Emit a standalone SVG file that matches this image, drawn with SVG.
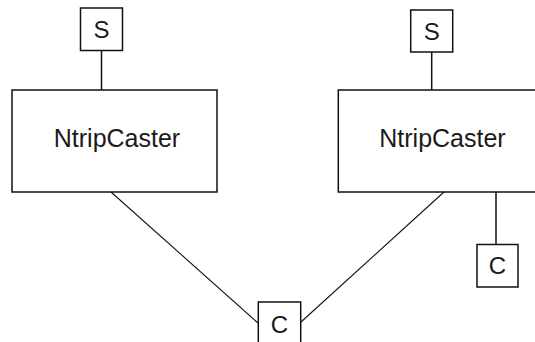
<svg xmlns="http://www.w3.org/2000/svg" width="535" height="342" viewBox="0 0 535 342">
<style>
.box{fill:#fff;stroke:#111;stroke-width:1.5}
.lbl{font-family:"Liberation Sans",Arial,sans-serif;font-size:24px;fill:#1a1a1a;text-anchor:middle}
.big{font-size:25px}
.con{stroke:#111;stroke-width:1.5;fill:none}
.diag{stroke:#111;stroke-width:1.1;fill:none}
</style>
<rect width="535" height="342" fill="#fff"/>
<g id="connectors">
<line class="con" x1="101.5" y1="50.5" x2="101.5" y2="90"/>
<line class="con" x1="431.7" y1="52" x2="431.7" y2="90"/>
<line class="con" x1="496" y1="192" x2="496" y2="244"/>
<line class="diag" x1="111" y1="192" x2="258" y2="323"/>
<line class="diag" x1="444" y1="192" x2="301" y2="322"/>
</g>
<g id="s1"><rect class="box" x="80.5" y="8" width="42" height="42.5"/><text class="lbl" x="101.5" y="37.5">S</text></g>
<g id="s2"><rect class="box" x="410.7" y="10" width="42" height="42"/><text class="lbl" x="431.7" y="39.5">S</text></g>
<g id="caster1"><rect class="box" x="12" y="90" width="205" height="102"/><text class="lbl big" x="117" y="147">NtripCaster</text></g>
<g id="caster2"><rect class="box" x="338.3" y="90" width="205" height="102"/><text class="lbl big" x="442.5" y="147">NtripCaster</text></g>
<g id="c1"><rect class="box" x="258.3" y="302" width="42.4" height="45"/><text class="lbl" x="279.5" y="333">C</text></g>
<g id="c2"><rect class="box" x="477" y="244.5" width="41" height="42.5"/><text class="lbl" x="497.5" y="273.5">C</text></g>
</svg>
